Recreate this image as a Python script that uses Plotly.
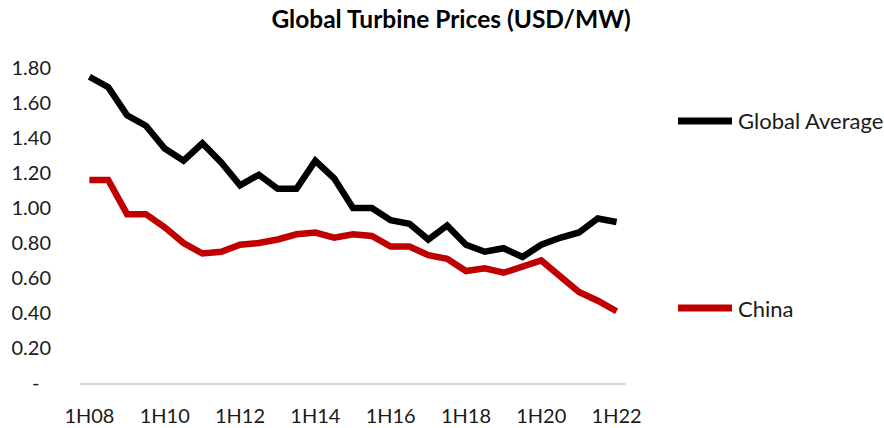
import plotly.graph_objects as go

periods = []
for yr in range(8, 23):
    for h in (1, 2):
        if yr == 22 and h == 2:
            continue
        periods.append(f"{h}H{yr:02d}")

global_avg = [1.75, 1.69, 1.53, 1.47, 1.34, 1.27, 1.37, 1.26, 1.13, 1.19, 1.11, 1.11,
              1.27, 1.17, 1.00, 1.00, 0.93, 0.91, 0.82, 0.90, 0.79, 0.75, 0.77, 0.72,
              0.79, 0.83, 0.86, 0.94, 0.92]
china = [1.16, 1.16, 0.965, 0.965, 0.89, 0.80, 0.74, 0.75, 0.79, 0.80, 0.82, 0.85,
         0.86, 0.83, 0.85, 0.84, 0.78, 0.78, 0.73, 0.71, 0.64, 0.655, 0.63, 0.665,
         0.70, 0.61, 0.52, 0.47, 0.41]
series_names = ["Global Average", "China"]
series_colors = ["#000000", "#C00000"]

x_tick_labels = [p for p in periods if p.startswith("1H") and int(p[2:]) % 2 == 0]
y_tick_vals = [0, 0.2, 0.4, 0.6, 0.8, 1.0, 1.2, 1.4, 1.6, 1.8]
y_tick_text = ["-\u2007"] + [f"{v:.2f}" for v in y_tick_vals[1:]]

FONT = "Lato, Calibri, 'Open Sans', sans-serif"

# plot area in pixels
L, R, T, B = 80, 626, 68, 383
W, H = 884, 428


def px_x(p):
    return (p - L) / (R - L)


def px_y(p):
    return (B - p) / (B - T)


fig = go.Figure()
for name, vals, col in zip(series_names, [global_avg, china], series_colors):
    fig.add_trace(go.Scatter(x=periods, y=vals, mode="lines", name=name,
                             line=dict(color=col, width=6.5), showlegend=False))

# legend drawn beside the series ends (Excel-style spacing)
legend_y_px = [121, 308]
for name, col, ly in zip(series_names, series_colors, legend_y_px):
    fig.add_shape(type="line", xref="paper", yref="paper",
                  x0=px_x(678), x1=px_x(732), y0=px_y(ly), y1=px_y(ly),
                  line=dict(color=col, width=7))
    fig.add_annotation(xref="paper", yref="paper", x=px_x(736), y=px_y(ly),
                       xanchor="left", yanchor="middle", text=name, showarrow=False,
                       font=dict(size=22, color="#1a1a1a"))

fig.update_layout(
    width=W, height=H,
    margin=dict(l=L, r=W - R, t=T, b=H - B),
    paper_bgcolor="white", plot_bgcolor="white",
    font=dict(family=FONT, size=20, color="#1a1a1a"),
    title=dict(text="<b>Global Turbine Prices (USD/MW)</b>", x=451 / W, xanchor="center",
               y=1 - 19 / H, yanchor="middle", font=dict(size=24.5, color="#000000")),
    showlegend=False,
)
fig.update_xaxes(type="category", categoryorder="array", categoryarray=periods,
                 range=[-0.5, len(periods) - 0.5], tickmode="array",
                 tickvals=x_tick_labels, ticktext=x_tick_labels,
                 showgrid=False, showline=True, linecolor="#d9d9d9", linewidth=1.5,
                 ticks="", ticklabelstandoff=14, zeroline=False, automargin=False)
fig.update_yaxes(range=[0, 1.8], tickmode="array", tickvals=y_tick_vals, ticktext=y_tick_text,
                 showgrid=False, showline=False, zeroline=False, ticks="",
                 ticklabelstandoff=28, automargin=False)

fig.write_html("out.html", config={"displayModeBar": False},
               post_script="document.body.style.margin='0';document.body.style.padding='0';")
